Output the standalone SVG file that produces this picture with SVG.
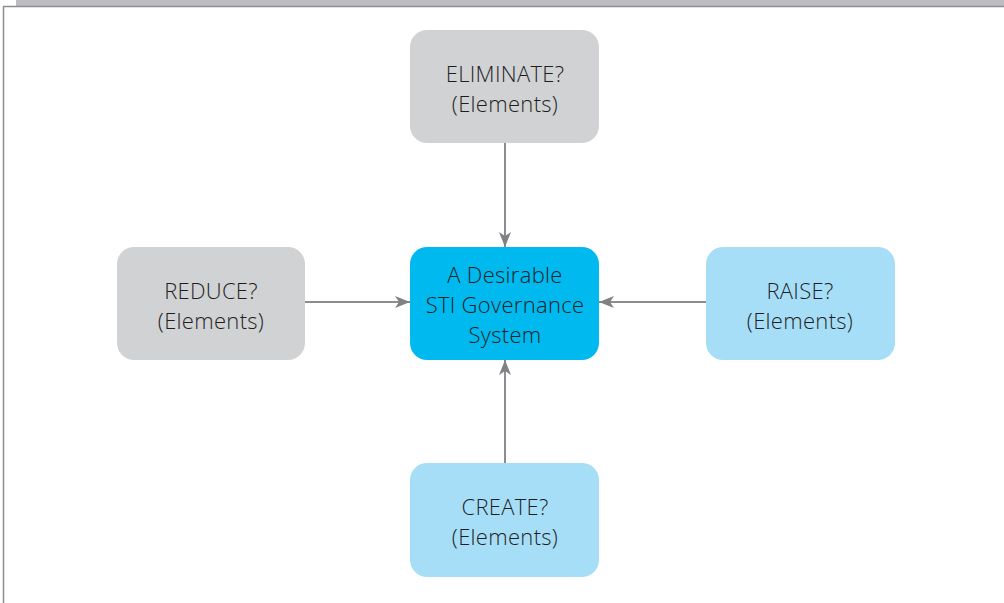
<svg xmlns="http://www.w3.org/2000/svg" width="1004" height="603" viewBox="0 0 1004 603">
  <defs>
    <marker id="arrow" viewBox="0 0 15 12" refX="15" refY="6" markerWidth="15" markerHeight="12" markerUnits="userSpaceOnUse" orient="auto">
      <path d="M0,0 L15,6 L0,12 L4,6 Z" fill="#808184"/>
    </marker>
  </defs>
  <style>
    .box { stroke: none; }
    .grey { fill: #d1d2d4; }
    .light { fill: #a6def8; }
    .core { fill: #00b9ef; }
    .label { font-family: "Open Sans", "Noto Sans", sans-serif; font-size: 22px; font-weight: 300; fill: #1e1e1e; text-anchor: middle; letter-spacing: 0.3px; }
    .conn { stroke: #8c8d90; stroke-width: 2; fill: none; marker-end: url(#arrow); }
  </style>
  <rect width="1004" height="603" fill="#ffffff"/>
  <!-- page header band and frame -->
  <rect x="16" y="0" width="988" height="6" fill="#bcbdc0"/>
  <line x1="3" y1="6.5" x2="1004" y2="6.5" stroke="#8e8f92" stroke-width="1.5"/>
  <line x1="3.5" y1="6" x2="3.5" y2="603" stroke="#8e8f92" stroke-width="1.5"/>

  <g id="connectors">
    <line class="conn" x1="505" y1="143" x2="505" y2="247"/>
    <line class="conn" x1="305" y1="302" x2="410" y2="302"/>
    <line class="conn" x1="706" y1="302" x2="599" y2="302"/>
    <line class="conn" x1="505" y1="463" x2="505" y2="360"/>
  </g>

  <g id="eliminate">
    <rect class="box grey" x="410" y="30" width="189" height="113" rx="17"/>
    <text class="label" x="505" y="82">ELIMINATE?</text>
    <text class="label" x="505" y="112">(Elements)</text>
  </g>

  <g id="reduce">
    <rect class="box grey" x="117" y="247" width="188" height="113" rx="17"/>
    <text class="label" x="211" y="299">REDUCE?</text>
    <text class="label" x="211" y="329">(Elements)</text>
  </g>

  <g id="system">
    <rect class="box core" x="410" y="247" width="189" height="113" rx="17"/>
    <text class="label" x="505" y="283">A Desirable</text>
    <text class="label" x="505" y="313">STI Governance</text>
    <text class="label" x="505" y="343">System</text>
  </g>

  <g id="raise">
    <rect class="box light" x="706" y="247" width="189" height="113" rx="17"/>
    <text class="label" x="800" y="299">RAISE?</text>
    <text class="label" x="800" y="329">(Elements)</text>
  </g>

  <g id="create">
    <rect class="box light" x="410" y="463" width="189" height="114" rx="17"/>
    <text class="label" x="505" y="515">CREATE?</text>
    <text class="label" x="505" y="545">(Elements)</text>
  </g>
</svg>
